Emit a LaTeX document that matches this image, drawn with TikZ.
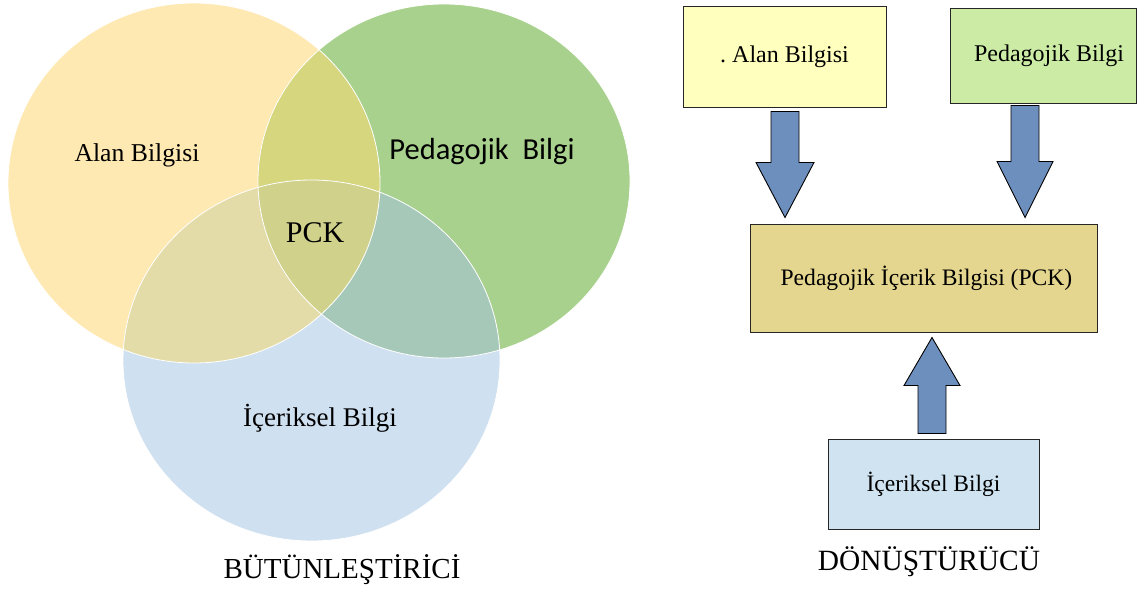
\documentclass[tikz,border=0pt]{standalone}
\usepackage{fontspec}
\setmainfont{Liberation Serif}
\newfontfamily\calfont{Carlito}
\usetikzlibrary{calc}

% Venn colours: single sets and their overlaps
\definecolor{cY}{RGB}{255,233,178}
\definecolor{cG}{RGB}{169,209,142}
\definecolor{cB}{RGB}{207,224,240}
\definecolor{cYG}{RGB}{213,214,126}
\definecolor{cYB}{RGB}{228,220,168}
\definecolor{cGB}{RGB}{165,200,185}
\definecolor{cYGB}{RGB}{208,210,140}
% flow chart colours
\definecolor{boxY}{RGB}{255,255,190}
\definecolor{boxG}{RGB}{204,236,166}
\definecolor{boxT}{RGB}{228,214,142}
\definecolor{boxB}{RGB}{207,228,240}
\definecolor{arrowfill}{RGB}{109,143,190}

\tikzset{
  vlabel/.style={inner sep=0pt, text=black},
  flowbox/.style={draw=black!85, line width=1pt, inner sep=0pt, text=black},
  barrow/.style={fill=arrowfill, draw=black, line width=0.9pt, line join=miter},
}

% the three sets of the Venn diagram
\def\ellY{(194,183) ellipse [x radius=186pt, y radius=180pt]}
\def\ellG{(444,181) ellipse [x radius=186pt, y radius=177pt]}
\def\ellB{(311.5,360.5) ellipse [x radius=188.5pt, y radius=180.5pt]}

% block arrow: #1 tail, #2 tip, #3 shaft half width, #4 head half width, #5 offset of head base from tip
\newcommand\blockarrow[5]{%
  \draw[barrow] ($(#1)+(-#3,0)$) -- ($(#2)+(-#3,#5)$) -- ($(#2)+(-#4,#5)$) -- (#2)
    -- ($(#2)+(#4,#5)$) -- ($(#2)+(#3,#5)$) -- ($(#1)+(#3,0)$) -- cycle;}

\begin{document}
\begin{tikzpicture}[x=1pt,y=-1pt]
\useasboundingbox (0,0) rectangle (1139,589);

% ---- integrative model (Venn) ----
\fill[cY] \ellY;
\fill[cG] \ellG;
\fill[cB] \ellB;
\begin{scope}\clip \ellY; \fill[cYG] \ellG; \end{scope}
\begin{scope}\clip \ellY; \fill[cYB] \ellB; \end{scope}
\begin{scope}\clip \ellG; \fill[cGB] \ellB; \end{scope}
\begin{scope}\clip \ellY; \clip \ellG; \fill[cYGB] \ellB; \end{scope}
\draw[white, line width=0.8pt] \ellY;
\draw[white, line width=0.8pt] \ellG;
\draw[white, line width=0.8pt] \ellB;

\node[vlabel, font=\fontsize{25.7}{30}\selectfont] (valan) at (137,155) {Alan Bilgisi};
\node[vlabel, font=\calfont\fontsize{30.5}{34}\selectfont] (vped) at (482,152) {Pedagojik\ \ Bilgi};
\node[vlabel, font=\fontsize{30}{34}\selectfont] (vpck) at (315,233) {PCK};
\node[vlabel, font=\fontsize{27}{32}\selectfont] (vicer) at (320,418) {İçeriksel Bilgi};
\node[vlabel, font=\fontsize{29}{34}\selectfont] (lint) at (342,570) {BÜTÜNLEŞTİRİCİ};

% ---- transformative model (flow chart) ----
\node[flowbox, fill=boxY, minimum width=203pt, minimum height=101pt,
      font=\fontsize{24}{28}\selectfont] (alan) at (784.5,56.5) {.\hspace{6pt}Alan Bilgisi\hspace{9pt}};
\node[flowbox, fill=boxG, minimum width=186pt, minimum height=95pt,
      font=\fontsize{24}{28}\selectfont] (ped) at (1043,55.5) {\ \ Pedagojik Bilgi};
\node[flowbox, fill=boxT, minimum width=347pt, minimum height=108pt,
      font=\fontsize{23.6}{28}\selectfont] (pck) at (923.5,278) {\ Pedagojik İçerik Bilgisi (PCK)};
\node[flowbox, fill=boxB, minimum width=211pt, minimum height=90pt,
      font=\fontsize{23.5}{28}\selectfont] (icer) at (933.5,484) {İçeriksel Bilgi};
\node[vlabel, font=\fontsize{29.4}{34}\selectfont] (ltrans) at (929,562) {DÖNÜŞTÜRÜCÜ};

\coordinate (a1s) at ($(alan.south)+(0.5,4)$);
\coordinate (a1t) at ($(pck.north -| a1s)+(0,-6)$);
\coordinate (a2s) at ($(ped.south)+(-18,2)$);
\coordinate (a2t) at ($(pck.north -| a2s)+(0,-6)$);
\coordinate (a3s) at ($(icer.north)+(-1.5,-5)$);
\coordinate (a3t) at ($(pck.south -| a3s)+(0,5)$);

\blockarrow{a1s}{a1t}{14}{29}{-55}
\blockarrow{a2s}{a2t}{14}{28}{-56}
\blockarrow{a3s}{a3t}{14}{28}{48}
\end{tikzpicture}
\end{document}
